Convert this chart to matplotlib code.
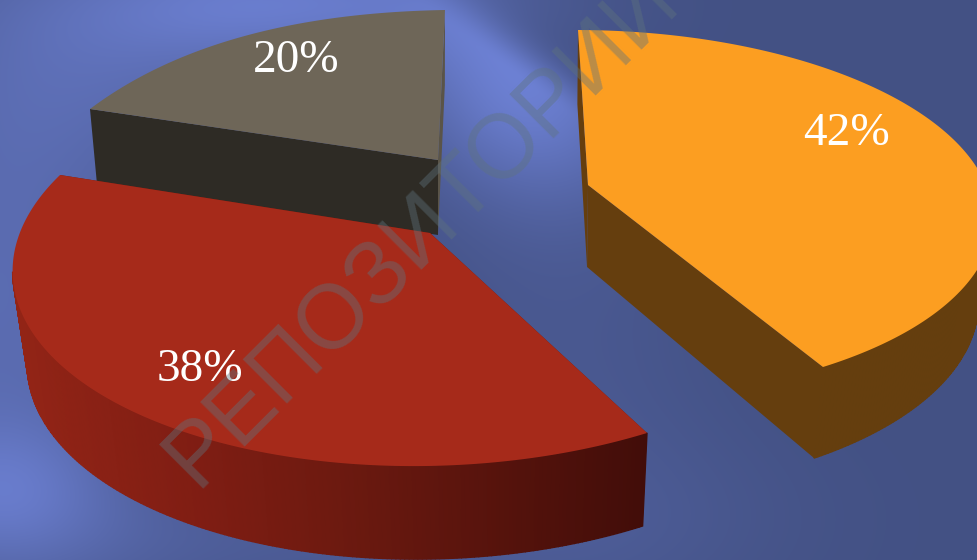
import numpy as np
import matplotlib
matplotlib.use("Agg")
import matplotlib.pyplot as plt
from matplotlib.colors import to_rgb

# Pie values, in percent
shares = [42, 38, 20]
top_colors = ["#fc9e21", "#a62a1a", "#6e6658"]
wall_colors = ["#653e0e", "#6e1a10", "#2e2b25"]
end_wall_colors = ["#653e0e", "#6e1a10", "#5a5448"]
watermark = "РЕПОЗИТОРИЙ"

START_ANGLE = 93.0
W, H_PX = 977, 560

# Projective camera of each exploded slice: disk (cos, sin) -> canvas pixels
cameras = [
    np.array([[429.208, 24.3799, 601.852], [11.3986, -174.227, 205.921], [0.0390212, 0.0466317, 1]]),
    np.array([[451.6408, 84.6294, 471.0374], [34.93635, -188.3972, 247.8513], [0.07428174, 0.06404914, 1]]),
    np.array([[606.1865, 294.6496, 631.9298], [-3.050638, -169.864, 189.5716], [-0.1061748, 1.005822, 1]]),
]
apex = [(588, 185), (430, 233), (438, 160)]
depth = [82, 93, 75]
depth_slope = [0.05, 0.0, 0.0]
converge = [0.034, 0.03, 0.02]
converge_x = [560, 500, 438]
label_pos = [(846, 134), (200, 370), (296, 61)]


def project(h, theta):
    u, v = np.cos(np.radians(theta)), np.sin(np.radians(theta))
    w = h[2, 0] * u + h[2, 1] * v + 1
    return (h[0, 0] * u + h[0, 1] * v + h[0, 2]) / w, (h[1, 0] * u + h[1, 1] * v + h[1, 2]) / w


def lower(i, x, y):
    """Point on the slice's bottom face below a point of its top face."""
    return x - converge[i] * (x - converge_x[i]), y + depth[i] + depth_slope[i] * (y - apex[i][1])


def red_wall_shade(x):
    xs = [20, 200, 330, 647]
    return np.array([np.interp(x, xs, [0x92, 0x7f, 0x6e, 0x42]),
                     np.interp(x, xs, [0x24, 0x1d, 0x1a, 0x0d]),
                     np.interp(x, xs, [0x16, 0x13, 0x10, 0x09])]) / 255


# Slice angle ranges follow from the values, running clockwise
sweeps = [v / sum(shares) * 360 for v in shares]
edges = START_ANGLE - np.r_[0, np.cumsum(sweeps)]

fig = plt.figure(figsize=(9.77, 5.6), dpi=100)
ax = fig.add_axes([0, 0, 1, 1])
ax.set_xlim(0, W)
ax.set_ylim(H_PX, 0)
ax.axis("off")

# Backdrop: dark blue with soft light patches and one diagonal streak
yy, xx = np.mgrid[0:H_PX, 0:W]


def blob(cx, cy, sx, sy):
    return np.exp(-((xx - cx) / sx) ** 2 - ((yy - cy) / sy) ** 2)


across = ((xx - 445) * 95 - (yy - 25) * 130) / np.hypot(95, 130)
along = ((xx - 445) * 130 + (yy - 25) * 95) / np.hypot(95, 130)
streak = np.where(across < 0, np.exp(-(across / 110) ** 2), np.exp(-(across / 30) ** 2))
streak = streak * np.exp(-((along - 100) / 130) ** 2)
glow = (0.9 * streak + 0.55 * blob(0, 300, 170, 330) + 0.45 * blob(0, 490, 110, 70)
        + 0.7 * blob(300, 0, 210, 60) + 0.35 * blob(150, 60, 200, 110) + 0.2 * blob(250, 540, 250, 60)
        + 0.14 * blob(560, 350, 150, 200) + 0.15 * blob(600, 520, 200, 100))
glow = np.clip(glow, 0, 1)[..., None]
dark, light = np.array([67, 81, 132]) / 255, np.array([110, 130, 214]) / 255
ax.imshow(dark + (light - dark) * glow, extent=(0, W, H_PX, 0), aspect="auto", zorder=0)

# Back slice first, so nearer slices overlap it
z = 1
for i in [2, 1, 0]:
    theta = np.linspace(edges[i], edges[i + 1], 240)
    x, y = project(cameras[i], theta)
    xb, yb = lower(i, x, y)
    px, py = apex[i]
    pxb, pyb = lower(i, np.array(px), np.array(py))
    ax.fill([x[0], px, pxb, xb[0]], [y[0], py, pyb, yb[0]], color=wall_colors[i], zorder=z, lw=0)
    ax.fill([x[-1], px, pxb, xb[-1]], [y[-1], py, pyb, yb[-1]], color=end_wall_colors[i], zorder=z, lw=0)
    base = np.array(to_rgb(wall_colors[i]))
    for k in range(len(theta) - 1):
        if x[k + 1] >= x[k]:
            continue  # rear part of the rim is hidden by the top face
        c = red_wall_shade(x[k]) if i == 1 else base
        ax.fill([x[k], x[k + 1], xb[k + 1], xb[k]], [y[k], y[k + 1], yb[k + 1], yb[k]],
                color=c, zorder=z, lw=1.0)
    ax.fill(np.r_[px, x], np.r_[py, y], color=top_colors[i], zorder=z + 0.5, lw=0)
    z += 1

for v, (lx, ly) in zip(shares, label_pos):
    ax.text(lx, ly, f"{v}%", color="white", family="Liberation Serif", fontsize=34,
            ha="center", va="center", zorder=6)

ax.text(196, 488, watermark, family="Liberation Sans", fontsize=65, rotation=45, rotation_mode="anchor",
        ha="left", va="baseline", color=(95 / 255, 115 / 255, 125 / 255), alpha=0.42, zorder=7, clip_on=True)

fig.savefig("out.png", dpi=100)
